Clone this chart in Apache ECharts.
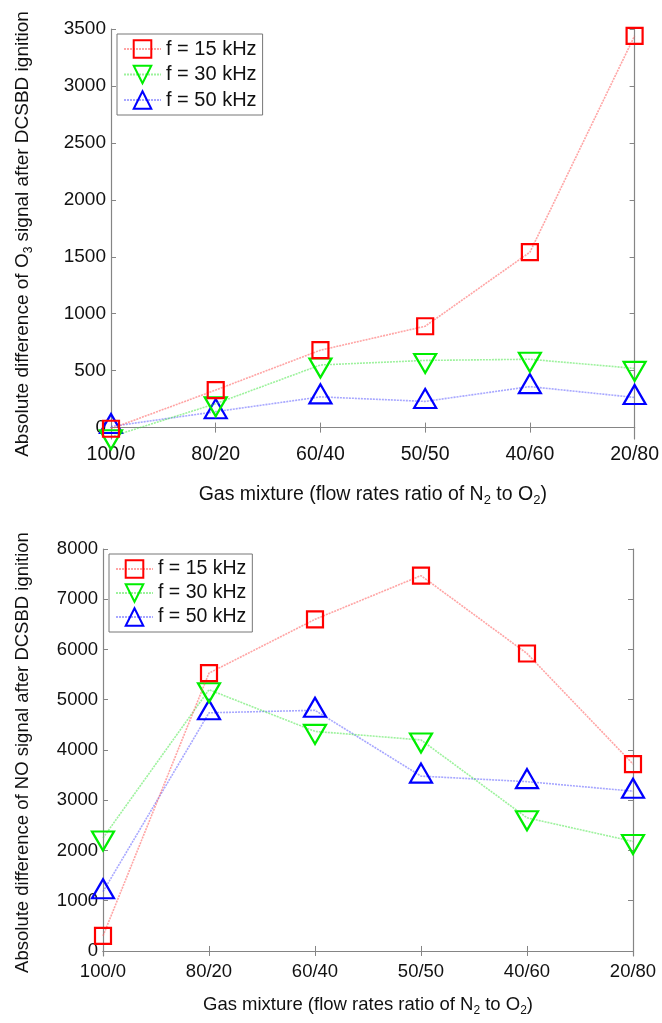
<!DOCTYPE html>
<html>
<head>
<meta charset="utf-8">
<script src="https://cdn.jsdelivr.net/npm/echarts@6/dist/echarts.min.js"></script>
<style>
html,body{margin:0;padding:0;background:#fff;}
#c{width:662px;height:1023px;}
</style>
</head>
<body>
<div id="c"></div>
<script>
// ---- data ----
const categories = ['100/0', '80/20', '60/40', '50/50', '40/60', '20/80'];
const seriesNames = ['f = 15 kHz', 'f = 30 kHz', 'f = 50 kHz'];
// Top chart: O3
const o3_15 = [-10, 330, 680, 890, 1540, 3440];
const o3_30 = [-80, 210, 550, 590, 600, 520];
const o3_50 = [10, 140, 270, 230, 360, 265];
// Bottom chart: NO
const no_15 = [300, 5530, 6600, 7470, 5920, 3720];
const no_30 = [2250, 5200, 4370, 4200, 2650, 2180];
const no_50 = [1180, 4740, 4790, 3480, 3370, 3180];
// tick labels
const o3Ticks = [0, 500, 1000, 1500, 2000, 2500, 3000, 3500];
const noTicks = [0, 1000, 2000, 3000, 4000, 5000, 6000, 7000, 8000];

const FONT = '"Liberation Sans", Arial, Helvetica, sans-serif';
const AXC = '#858585';
const colors = ['#ff0000', '#00ee00', '#0000ff'];
const lineColors = ['rgba(255,90,90,0.55)', 'rgba(60,230,60,0.5)', 'rgba(80,80,255,0.5)'];

function mkSeries(data, idx, axisIdx) {
  const sym = idx === 0 ? 'rect' : 'triangle';
  const size = idx === 0 ? [16, 16] : [22, 19];
  return {
    type: 'line',
    name: seriesNames[idx],
    data: data,
    xAxisIndex: axisIdx,
    yAxisIndex: axisIdx,
    symbol: sym,
    symbolSize: size,
    symbolRotate: idx === 1 ? 180 : 0,
    symbolOffset: idx === 0 ? [0, 0] : (idx === 1 ? [0, 3] : [0, -3]),
    showAllSymbol: true,
    clip: false,
    z: 3 - idx,
    lineStyle: { color: lineColors[idx], width: 1.6, type: [2, 1] },
    itemStyle: { color: 'rgba(255,255,255,0)', borderColor: colors[idx], borderWidth: 2.2 },
    emphasis: { disabled: true },
    animation: false
  };
}

function xAxisPair(gridIndex, fs, nameGap) {
  return [
    {
      type: 'category', gridIndex: gridIndex, data: categories, boundaryGap: false,
      position: 'bottom',
      axisLine: { show: true, lineStyle: { color: AXC, width: 1.2 } },
      axisTick: { show: true, inside: true, length: 5, lineStyle: { color: AXC } },
      axisLabel: { color: '#111', fontSize: fs, fontFamily: FONT, margin: 6, interval: 0 },
      splitLine: { show: false },
      name: 'Gas mixture (flow rates ratio of N{sub|2} to O{sub|2})',
      nameLocation: 'middle', nameGap: nameGap,
      nameTextStyle: {
        color: '#111', fontSize: fs, fontFamily: FONT,
        rich: { sub: { fontSize: Math.round(fs * 0.65), fontFamily: FONT, color: '#111', padding: [12, 0, 0, 0] } }
      }
    },
    {
      type: 'category', gridIndex: gridIndex, data: categories, boundaryGap: false,
      position: 'top',
      axisLine: { show: true, lineStyle: { color: AXC, width: 1.2 } },
      axisTick: { show: true, inside: true, length: 5, lineStyle: { color: AXC } },
      axisLabel: { show: false },
      splitLine: { show: false }
    }
  ];
}

function yAxisPair(gridIndex, min, max, ticks, fs, name, nameGap) {
  return [
    {
      type: 'value', gridIndex: gridIndex, min: min, max: max, position: 'left',
      axisLine: { show: true, lineStyle: { color: AXC, width: 1.2 } },
      axisTick: { show: true, inside: true, length: 5, customValues: ticks, lineStyle: { color: AXC } },
      axisLabel: { color: '#111', fontSize: fs, fontFamily: FONT, margin: 5, customValues: ticks,
        formatter: function (v) { return String(v); } },
      splitLine: { show: false },
      name: name, nameLocation: 'middle', nameGap: nameGap, nameRotate: 90,
      nameTextStyle: {
        color: '#111', fontSize: fs, fontFamily: FONT,
        rich: { sub: { fontSize: Math.round(fs * 0.65), fontFamily: FONT, color: '#111', padding: [12, 0, 0, 0] } }
      }
    },
    {
      type: 'value', gridIndex: gridIndex, min: min, max: max, position: 'right',
      axisLine: { show: true, lineStyle: { color: AXC, width: 1.2 } },
      axisTick: { show: true, inside: true, length: 5, customValues: ticks, lineStyle: { color: AXC } },
      axisLabel: { show: false },
      splitLine: { show: false }
    }
  ];
}

function mkLegend(left, top, fs, gap) {
  return {
    left: left, top: top, orient: 'vertical',
    data: seriesNames,
    itemWidth: 37, itemHeight: 22, itemGap: gap,
    padding: [5, 6, 5, 6],
    borderColor: '#777', borderWidth: 1, backgroundColor: '#fff',
    textStyle: { color: '#111', fontSize: fs, fontFamily: FONT },
    selectedMode: false
  };
}

const xa = xAxisPair(0, 19.5, 43).concat(xAxisPair(1, 18.5, 37));
const ya = yAxisPair(0, -100, 3500, o3Ticks, 19, 
  'Absolute difference of O{sub|3} signal after DCSBD ignition', 76)
  .concat(yAxisPair(1, -100, 8000, noTicks, 18.5,
  'Absolute difference of NO signal after DCSBD ignition', 71));
const series = [
  mkSeries(o3_15, 0, 0), mkSeries(o3_30, 1, 0), mkSeries(o3_50, 2, 0),
  mkSeries(no_15, 0, 2), mkSeries(no_30, 1, 2), mkSeries(no_50, 2, 2)
];

const option = {
  backgroundColor: '#fff',
  animation: false,
  textStyle: { fontFamily: FONT },
  grid: [
    { left: 111, top: 29, width: 525, height: 410, containLabel: false },
    { left: 103, top: 549, width: 530, height: 407, containLabel: false }
  ],
  legend: [mkLegend(117, 34, 20, 5.5), mkLegend(109, 554, 19.5, 4)],
  xAxis: xa,
  yAxis: ya,
  series: series
};

const chart = echarts.init(document.getElementById('c'), null, { renderer: 'canvas' });
chart.setOption(option);
</script>
</body>
</html>
